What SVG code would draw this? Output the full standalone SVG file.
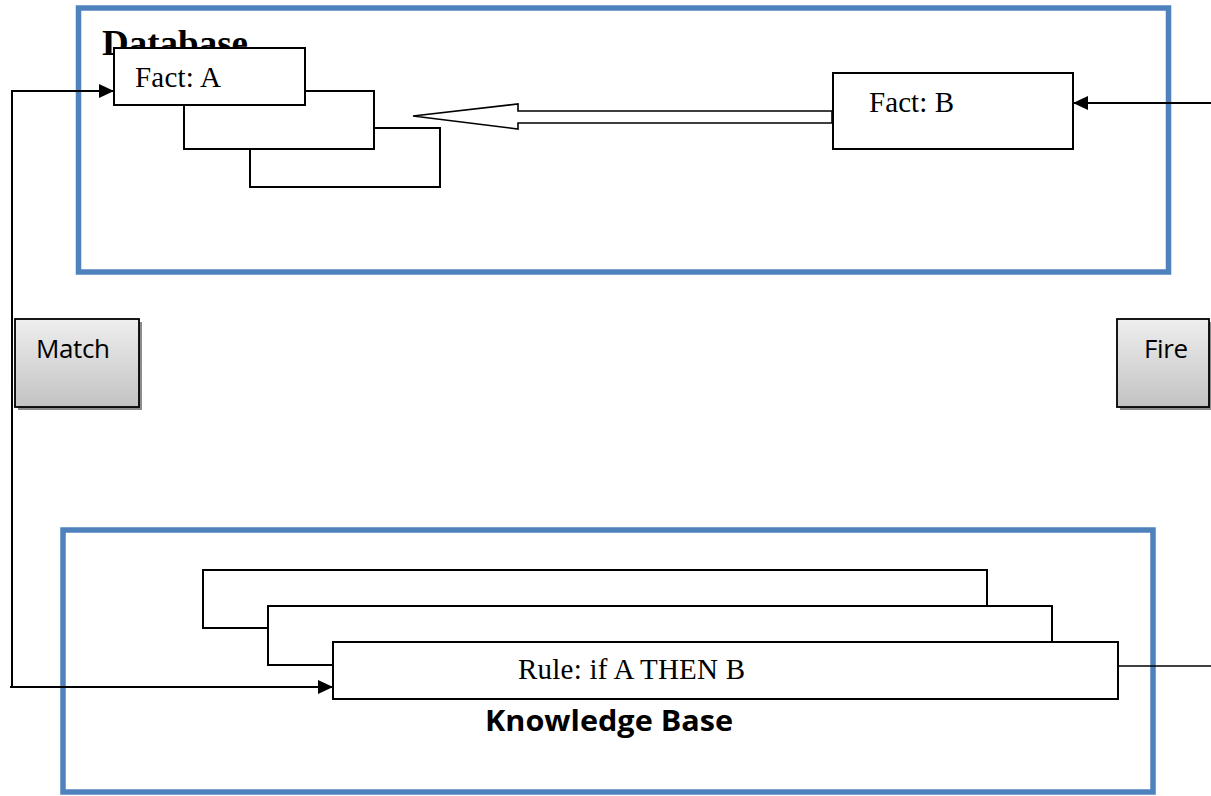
<svg xmlns="http://www.w3.org/2000/svg" width="1211" height="796" viewBox="0 0 1211 796">
<style>
.frame{fill:none;stroke:#4f81bd;stroke-width:5.5}
.box{fill:#fff;stroke:#000;stroke-width:2}
.ser{font-family:"Liberation Serif","Times New Roman",serif;font-size:29px;fill:#000}
.btn{fill:url(#g);stroke:#000;stroke-width:1.8}
.shd{fill:#8c8c8c}
.sans{font-family:"Open Sans","Liberation Sans",sans-serif;font-size:26px;fill:#000}
.wire{fill:none;stroke:#000;stroke-width:2}
</style>
<defs>
<linearGradient id="g" x1="0" y1="0" x2="0" y2="1">
<stop offset="0" stop-color="#eeeeee"/>
<stop offset="1" stop-color="#c2c2c2"/>
</linearGradient>
<marker id="ah" markerWidth="16" markerHeight="14" refX="15" refY="7" orient="auto" markerUnits="userSpaceOnUse">
<path d="M0,0 L15,7 L0,14 Z" fill="#000"/>
</marker>
</defs>
<rect width="1211" height="796" fill="#fff"/>

<g id="database">
<rect class="frame" x="78.5" y="8" width="1090" height="264"/>
<text x="102" y="55" font-family="Liberation Serif,'Times New Roman',serif" font-weight="bold" font-size="36" textLength="146" lengthAdjust="spacingAndGlyphs">Database</text>
</g>

<g id="knowledge-base">
<rect class="frame" x="63" y="530" width="1090" height="262"/>
<text x="485" y="731" font-family="'Open Sans','Liberation Sans',sans-serif" font-weight="bold" font-size="28" textLength="248" lengthAdjust="spacingAndGlyphs">Knowledge Base</text>
</g>

<g id="fact-stack">
<rect class="box" x="250" y="128" width="190" height="59"/>
<rect class="box" x="184" y="91" width="190" height="58"/>
</g>
<g id="fact-a">
<rect class="box" x="114" y="48" width="191" height="57"/>
<text class="ser" x="135" y="87" textLength="86">Fact: A</text>
</g>

<g id="fact-b">
<rect class="box" x="833" y="73" width="240" height="76"/>
<text class="ser" x="869" y="112" textLength="85">Fact: B</text>
</g>

<g id="rule-stack">
<rect class="box" x="203" y="570" width="784" height="58"/>
<rect class="box" x="268" y="606" width="784" height="59"/>
</g>
<g id="rule">
<rect class="box" x="333" y="642" width="785" height="57"/>
<text class="ser" x="518" y="679" textLength="227">Rule: if A THEN B</text>
</g>

<g id="match">
<rect class="shd" x="18" y="322" width="124" height="88"/>
<rect class="btn" x="15" y="319" width="124" height="88"/>
<text class="sans" x="36" y="358" textLength="74">Match</text>
</g>

<g id="fire">
<rect class="shd" x="1120" y="322" width="92" height="88"/>
<rect class="btn" x="1117" y="319" width="92" height="88"/>
<text class="sans" x="1144" y="358" textLength="44">Fire</text>
</g>

<g id="connectors">
<polygon points="413,116 518,104 518,111 832,111 832,123 518,123 518,129" fill="#fff" stroke="#000" stroke-width="1.6" stroke-linejoin="miter"/>
<polyline class="wire" points="10,687 12,687 12,91 114,91" marker-end="url(#ah)"/>
<line class="wire" x1="12" y1="687" x2="333" y2="687" marker-end="url(#ah)"/>
<line class="wire" x1="1211" y1="103" x2="1073" y2="103" marker-end="url(#ah)"/>
<line x1="1118" y1="666" x2="1211" y2="666" stroke="#000" stroke-width="1.5"/>
</g>
</svg>
